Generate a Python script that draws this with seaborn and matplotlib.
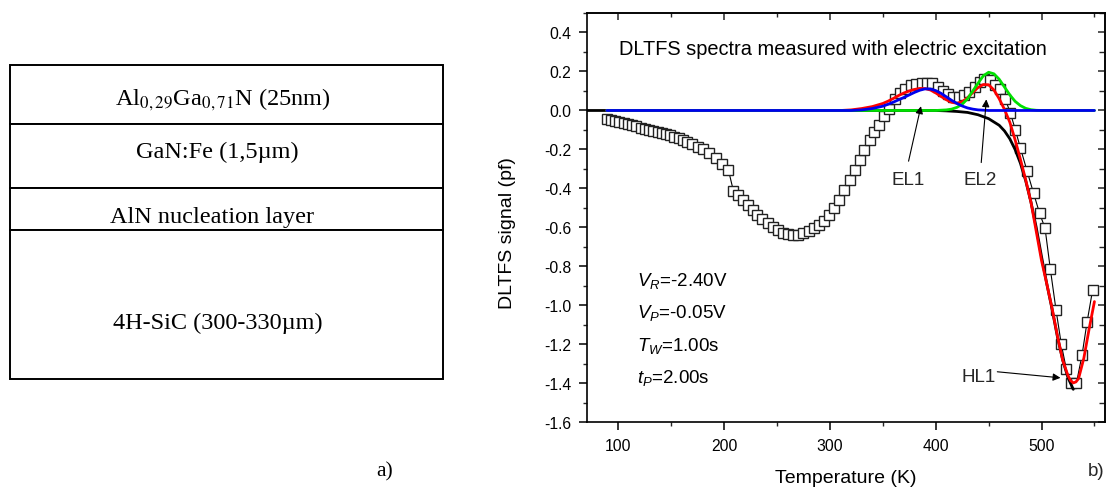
import matplotlib
matplotlib.use("Agg")
import matplotlib.pyplot as plt
import numpy as np
import seaborn as sns
from matplotlib.ticker import MultipleLocator

# ---------------- data ----------------
layer_names = [r"Al$_{0,29}$Ga$_{0,71}$N (25nm)", "GaN:Fe (1,5µm)",
               "AlN nucleation layer", "4H-SiC (300-330µm)"]
layer_heights = [59, 64, 42, 149]

data_T = [89, 93, 97, 101, 105, 109, 113, 117, 121, 125, 129, 133, 137, 141, 145,
          149, 153, 157, 161, 165, 170, 175, 180, 186, 192, 198, 204,
          208.7, 213.4, 217.5, 222.3, 227, 231.4, 236, 241, 246, 250.6, 255.4, 260,
          265, 269.6, 274.9, 280, 285, 290, 294.8, 299.5, 304, 308.5, 313.4, 318.5,
          323.5, 328, 332.5, 337.4, 341.8, 346, 351, 356, 361.7, 366.4, 371, 376.5,
          381.5, 386.9, 391.6, 396.7, 401.7, 406.8, 411.5, 416.3, 421.6, 426.3,
          431.4, 436.7, 441.4, 445.9, 450.9, 456.3, 461, 465.8, 470.5, 475.2, 480,
          486.3, 492.5, 498.2, 503.3, 508.3, 513.7, 518.7, 523.5, 528.2, 532.9,
          538.3, 543, 548.3]
data_v = [-0.043, -0.049, -0.054, -0.059, -0.064, -0.069, -0.075, -0.081, -0.088,
          -0.093, -0.099, -0.105, -0.111, -0.116, -0.121, -0.127, -0.134, -0.14,
          -0.149, -0.16, -0.173, -0.188, -0.2, -0.22, -0.245, -0.275, -0.305,
          -0.412, -0.432, -0.458, -0.483, -0.509, -0.535, -0.557, -0.578, -0.598,
          -0.615, -0.628, -0.636, -0.64, -0.638, -0.63, -0.618, -0.603, -0.586,
          -0.566, -0.535, -0.5, -0.461, -0.41, -0.355, -0.303, -0.256, -0.204,
          -0.149, -0.11, -0.073, -0.03, 0.01, 0.057, 0.091, 0.112, 0.129, 0.137,
          0.142, 0.142, 0.139, 0.122, 0.099, 0.082, 0.07, 0.068, 0.077, 0.094,
          0.122, 0.146, 0.159, 0.156, 0.129, 0.108, 0.057, -0.012, -0.098, -0.192,
          -0.31, -0.425, -0.528, -0.603, -0.813, -1.023, -1.2, -1.328, -1.4, -1.4,
          -1.254, -1.086, -0.92]

black_T = [60, 400, 410, 420, 430, 440, 450, 460, 465, 470, 475, 480, 485, 490,
           495, 500, 505, 510, 515, 520, 525, 530]
black_v = [0, 0, -0.002, -0.005, -0.01, -0.022, -0.042, -0.076, -0.105, -0.145,
           -0.2, -0.27, -0.36, -0.47, -0.6, -0.75, -0.89, -1.02, -1.16, -1.28,
           -1.37, -1.43]

red_T = [89, 310, 320, 330, 340, 350, 355, 360, 365, 370, 375, 380, 385, 390, 395,
         400, 405, 410, 415, 420, 425, 430, 435, 440, 445, 450, 455, 460, 465, 470,
         475, 480, 485, 490, 495, 500, 505, 510, 515, 520, 525, 527.5, 530, 532.5,
         535, 540, 545, 550]
red_v = [0, 0, 0.003, 0.01, 0.02, 0.036, 0.048, 0.062, 0.077, 0.09, 0.1, 0.108,
         0.113, 0.112, 0.105, 0.09, 0.072, 0.055, 0.042, 0.037, 0.045, 0.065, 0.092,
         0.118, 0.133, 0.132, 0.105, 0.06, 0.005, -0.06, -0.15, -0.25, -0.355,
         -0.47, -0.62, -0.77, -0.89, -1.015, -1.155, -1.28, -1.36, -1.385, -1.397,
         -1.392, -1.375, -1.27, -1.12, -0.98]

green_T = [89, 400, 410, 415, 420, 425, 430, 435, 440, 445, 450, 455, 460, 465,
           470, 475, 480, 485, 490, 495, 500, 550]
green_v = [0, 0, 0.003, 0.007, 0.016, 0.032, 0.06, 0.1, 0.14, 0.178, 0.196, 0.188,
           0.16, 0.12, 0.08, 0.047, 0.025, 0.011, 0.004, 0.001, 0, 0]

blue_T = [89, 320, 330, 340, 350, 355, 360, 365, 370, 375, 380, 385, 390, 395, 400,
          405, 410, 415, 420, 425, 430, 435, 440, 450, 550]
blue_v = [0, 0, 0.003, 0.01, 0.022, 0.032, 0.043, 0.055, 0.067, 0.08, 0.093, 0.104,
          0.111, 0.11, 0.102, 0.088, 0.07, 0.052, 0.036, 0.023, 0.013, 0.007, 0.003,
          0, 0]

x_major = [100, 200, 300, 400, 500]
y_major = [-1.6, -1.4, -1.2, -1.0, -0.8, -0.6, -0.4, -0.2, 0.0, 0.2, 0.4]

param_texts = [r"$V_R$=-2.40V", r"$V_P$=-0.05V", r"$T_W$=1.00s", r"$t_P$=2.00s"]
param_y = [-0.895, -1.061, -1.229, -1.392]

# ---------------- style ----------------
sns.set_theme(style="ticks")
plt.rcParams["font.family"] = ["Liberation Sans", "DejaVu Sans"]
plt.rcParams["mathtext.fontset"] = "custom"
plt.rcParams["mathtext.rm"] = "Liberation Sans"
plt.rcParams["mathtext.it"] = "Liberation Sans:italic"

fig = plt.figure(figsize=(11.09, 4.89), dpi=100)

# ---------------- panel a ----------------
ax0 = fig.add_axes([0, 0, 1, 1])
ax0.set_xlim(0, 1109)
ax0.set_ylim(489, 0)
ax0.axis("off")
bottoms = list(np.cumsum([66] + layer_heights[:-1]))
ax0.bar([226.5] * len(layer_heights), layer_heights, bottom=bottoms, width=433,
        color="white", edgecolor="black", linewidth=1.4)
text_x = [222.5, 217, 212.5, 217.5]
text_base = [105.5, 158.3, 222.5, 329.3]
for name, tx, ty in zip(layer_names, text_x, text_base):
    ax0.text(tx, ty, name, ha="center", va="baseline", fontsize=17.5,
             family=["Liberation Serif", "DejaVu Serif"], math_fontfamily="stix",
             color="black")
ax0.text(385, 472, "a)", ha="center", va="center", fontsize=15.5,
         family=["Liberation Serif", "DejaVu Serif"], color="black")

# ---------------- panel b ----------------
ax = fig.add_axes([0.529, 0.134, 0.4674, 0.8374])
sns.lineplot(x=data_T, y=data_v, ax=ax, color="black", lw=0.8, marker="s",
             markersize=6.5, markerfacecolor="white", markeredgecolor="#222222",
             markeredgewidth=1.0, estimator=None, sort=False)
sns.lineplot(x=black_T, y=black_v, ax=ax, color="black", lw=2.0, estimator=None, sort=False)
sns.lineplot(x=red_T, y=red_v, ax=ax, color="#ff0000", lw=2.0, estimator=None, sort=False)
sns.lineplot(x=green_T, y=green_v, ax=ax, color="#00e000", lw=2.0, estimator=None, sort=False)
sns.lineplot(x=blue_T, y=blue_v, ax=ax, color="#0000ee", lw=2.0, estimator=None, sort=False)

ax.set_xlim(70, 560)
ax.set_ylim(-1.6, 0.5)
ax.set_xticks(x_major)
ax.set_yticks(y_major)
ax.set_yticklabels([f"{v:.1f}" for v in y_major])
ax.xaxis.set_minor_locator(MultipleLocator(50))
ax.yaxis.set_minor_locator(MultipleLocator(0.1))
ax.tick_params(which="major", direction="out", length=6, width=1.1, labelsize=11.3,
               colors="black", pad=5)
ax.tick_params(which="minor", direction="out", length=3, width=1.0)
for s in ax.spines.values():
    s.set_linewidth(1.2)
    s.set_color("black")

secx = ax.secondary_xaxis("top")
secx.set_xticks(x_major)
secx.xaxis.set_minor_locator(MultipleLocator(50))
secx.tick_params(which="major", direction="in", length=5, width=1.1, labeltop=False)
secx.tick_params(which="minor", direction="in", length=3, width=1.0)
secy = ax.secondary_yaxis("right")
secy.set_yticks(y_major)
secy.yaxis.set_minor_locator(MultipleLocator(0.1))
secy.tick_params(which="major", direction="in", length=5, width=1.1, labelright=False)
secy.tick_params(which="minor", direction="in", length=4, width=1.0)

ax.set_xlabel("Temperature (K)", fontsize=14, color="black")
ax.set_ylabel("DLTFS signal (pf)", fontsize=14, color="black")
ax.xaxis.set_label_coords(0.5, -0.113)
ax.yaxis.set_label_coords(-0.136, 0.466)

ax.text(100.6, 0.288, "DLTFS spectra measured with electric excitation",
        fontsize=14.4, va="baseline", ha="left", color="black")
for t, yv in zip(param_texts, param_y):
    ax.text(117.2, yv, t, fontsize=13.5, va="baseline", ha="left", color="black")

arrow = dict(arrowstyle="-|>", color="black", lw=0.8, mutation_scale=11,
             shrinkA=0, shrinkB=0)
ax.text(373.7, -0.355, "EL1", fontsize=13.5, ha="center", va="center")
ax.annotate("", xy=(386, 0.022), xytext=(374.3, -0.26), arrowprops=arrow)
ax.text(442, -0.355, "EL2", fontsize=13.5, ha="center", va="center")
ax.annotate("", xy=(447.8, 0.057), xytext=(443, -0.267), arrowprops=arrow)
ax.text(456.3, -1.362, "HL1", fontsize=13.5, ha="right", va="center")
ax.annotate("", xy=(517.9, -1.371), xytext=(458.2, -1.34), arrowprops=arrow)

fig.text(1096 / 1109, 1 - 472 / 489, "b)", fontsize=13.5, ha="center", va="center")

fig.savefig("out.png", dpi=100)
